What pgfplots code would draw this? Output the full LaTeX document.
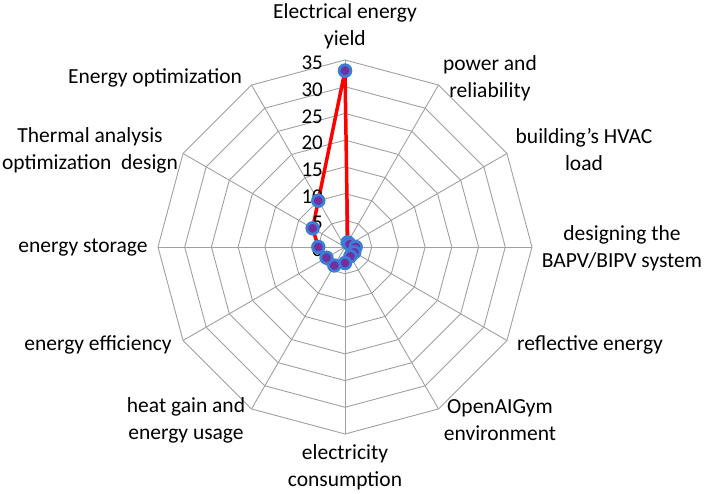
\documentclass[border=0pt]{standalone}
\usepackage{fontspec}
\setmainfont{Carlito}
\usepackage{pgfplots}
\pgfplotsset{compat=1.18}
\usepgfplotslibrary{polar}
\definecolor{gridgray}{RGB}{160,160,160}
\definecolor{mkblue}{RGB}{60,125,215}
\definecolor{mkpurple}{RGB}{112,48,160}
\definecolor{lnred}{RGB}{255,0,0}
\begin{document}
\begin{tikzpicture}
\begin{polaraxis}[
  hide axis,
  scale only axis,
  width=374pt, height=374pt,
  xmin=0, xmax=360, ymin=0, ymax=35,
  clip=false,
]
% rings
\pgfplotsinvokeforeach{5,10,15,20,25,30,35}{
  \addplot[gridgray, line width=0.9pt, forget plot] coordinates {(0,#1) (30,#1) (60,#1) (90,#1) (120,#1) (150,#1) (180,#1) (210,#1) (240,#1) (270,#1) (300,#1) (330,#1) (360,#1)};
}
% spokes
\pgfplotsinvokeforeach{0,30,60,90,120,150,180,210,240,270,300,330}{
  \addplot[gridgray, line width=0.9pt, forget plot] coordinates {(#1,0) (#1,35)};
}
% data
\addplot[lnred, line width=3.5pt, mark=*, mark size=5.8pt,
  mark options={fill=mkpurple, draw=mkblue, line width=2.8pt}]
  coordinates {(90,33) (60,1) (30,1) (0,2) (330,2) (300,2) (270,3) (240,4) (210,4) (180,5) (150,7) (120,10) (90,33)};
% value labels
\pgfplotsinvokeforeach{0,5,10,15,20,25,30,35}{
  \node[anchor=east, inner sep=0pt, xshift=-22pt, yshift=-3pt, font=\fontsize{21}{26}\selectfont] at (axis cs:90,#1) {#1};
}
\coordinate (C) at (axis cs:0,0);
\end{polaraxis}
\begin{scope}[every node/.style={align=center, inner sep=0pt, font=\fontsize{21.5}{27}\selectfont}]
\node at ([shift={(0pt,221pt)}]C) {Electrical energy\\yield};
\node at ([shift={(145pt,169pt)}]C) {power and\\reliability};
\node at ([shift={(239pt,97pt)}]C) {building's HVAC\\load};
\node at ([shift={(277pt,-1pt)}]C) {designing the\\BAPV/BIPV system};
\node at ([shift={(245pt,-98pt)}]C) {reflective energy};
\node at ([shift={(155pt,-173pt)}]C) {OpenAIGym\\environment};
\node at ([shift={(0pt,-220pt)}]C) {electricity\\consumption};
\node at ([shift={(-159pt,-173pt)}]C) {heat gain and\\energy usage};
\node at ([shift={(-247pt,-98pt)}]C) {energy efficiency};
\node at ([shift={(-262pt,-1pt)}]C) {energy storage};
\node at ([shift={(-255pt,97pt)}]C) {Thermal analysis\\optimization\ \ design};
\node at ([shift={(-190pt,169pt)}]C) {Energy optimization};
\end{scope}
\pgfresetboundingbox
\path[use as bounding box] ([shift={(-345pt,-247pt)}]C) rectangle ([shift={(361pt,247pt)}]C);
\end{tikzpicture}
\end{document}
